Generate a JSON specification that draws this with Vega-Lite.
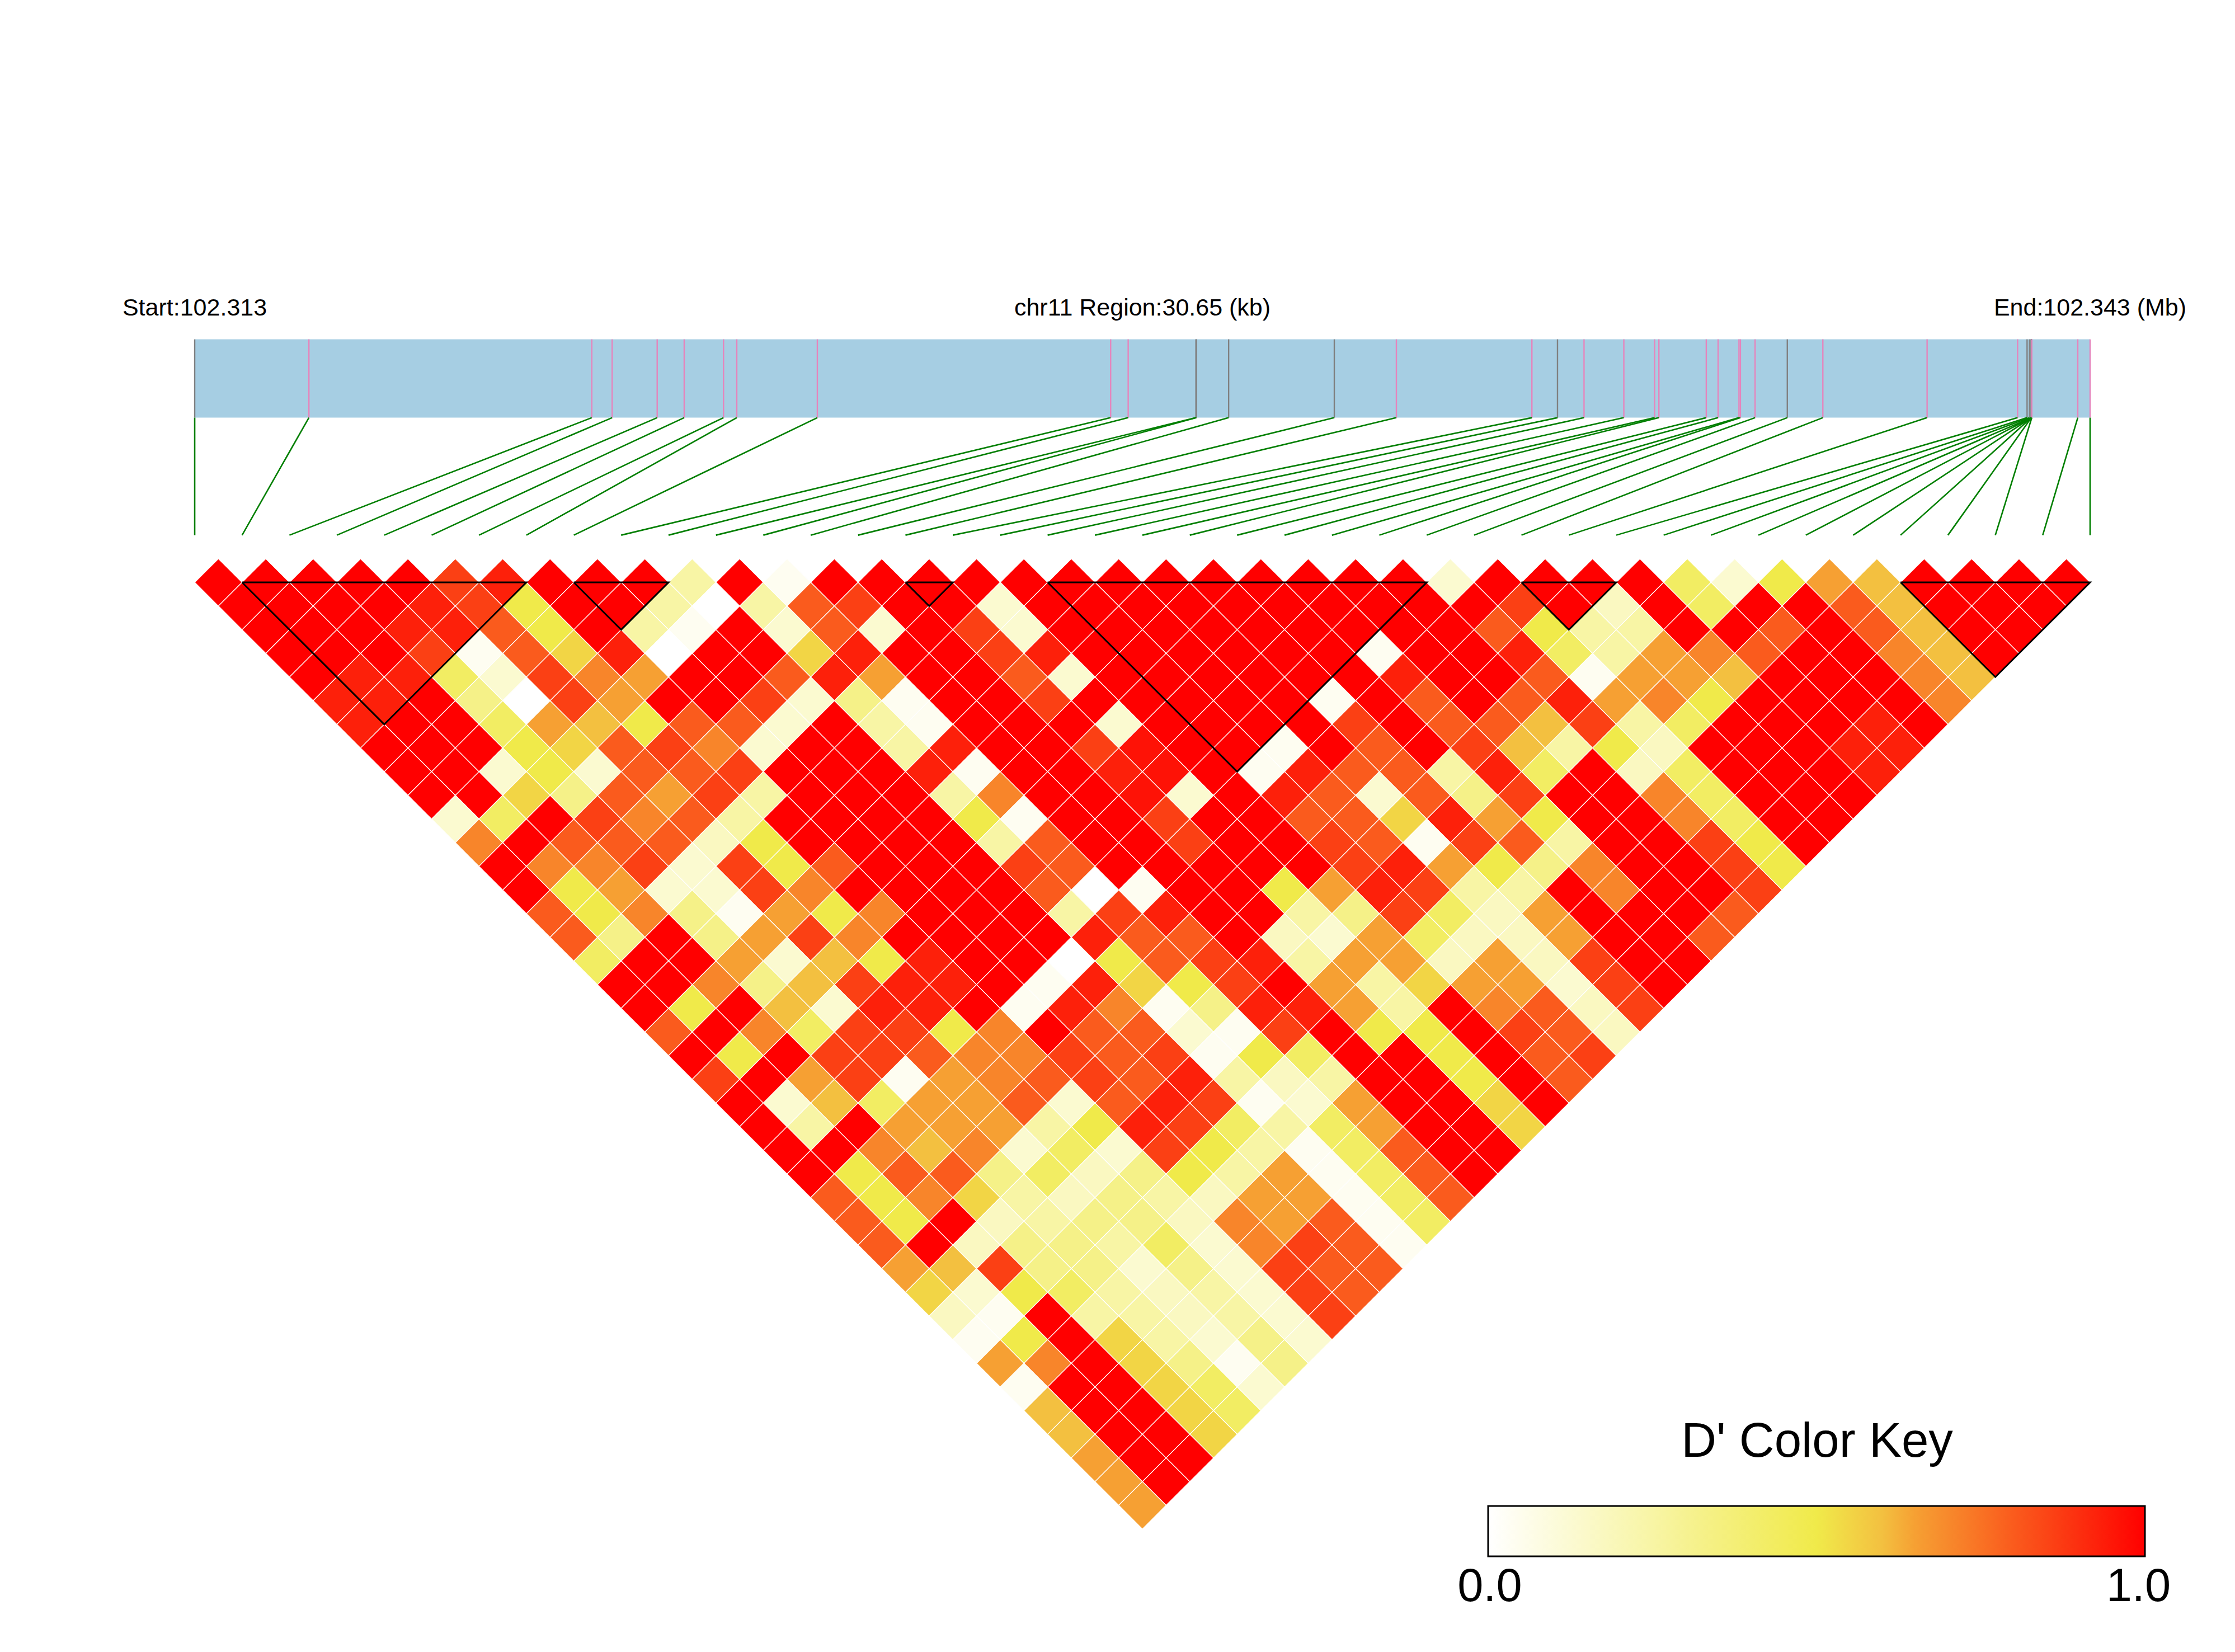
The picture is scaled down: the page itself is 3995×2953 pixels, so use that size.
{"$schema":"https://vega.github.io/schema/vega-lite/v6.json","width":3995,"height":2953,"padding":0,"autosize":{"type":"fit","contains":"padding"},"background":"white","config":{"view":{"stroke":null}},
"datasets":{
"snps":[{"k":0,"g":0,"t":"grey"},{"k":1,"g":2.41,"t":"pink"},{"k":2,"g":8.38,"t":"pink"},{"k":3,"g":8.81,"t":"pink"},{"k":4,"g":9.76,"t":"pink"},{"k":5,"g":10.33,"t":"pink"},{"k":6,"g":11.16,"t":"pink"},{"k":7,"g":11.44,"t":"pink"},{"k":8,"g":13.14,"t":"pink"},{"k":9,"g":19.33,"t":"pink"},{"k":10,"g":19.7,"t":"pink"},{"k":11,"g":21.13,"t":"grey"},{"k":12,"g":21.14,"t":"grey"},{"k":13,"g":21.82,"t":"grey"},{"k":14,"g":24.05,"t":"grey"},{"k":15,"g":25.36,"t":"pink"},{"k":16,"g":28.22,"t":"pink"},{"k":17,"g":28.76,"t":"grey"},{"k":18,"g":29.32,"t":"pink"},{"k":19,"g":30.16,"t":"pink"},{"k":20,"g":30.81,"t":"pink"},{"k":21,"g":30.9,"t":"pink"},{"k":22,"g":31.9,"t":"pink"},{"k":23,"g":32.15,"t":"pink"},{"k":24,"g":32.59,"t":"pink"},{"k":25,"g":32.62,"t":"pink"},{"k":26,"g":32.93,"t":"pink"},{"k":27,"g":33.61,"t":"grey"},{"k":28,"g":34.36,"t":"pink"},{"k":29,"g":36.56,"t":"pink"},{"k":30,"g":38.47,"t":"pink"},{"k":31,"g":38.67,"t":"grey"},{"k":32,"g":38.72,"t":"grey"},{"k":33,"g":38.76,"t":"grey"},{"k":34,"g":38.76,"t":"grey"},{"k":35,"g":38.76,"t":"grey"},{"k":36,"g":38.76,"t":"grey"},{"k":37,"g":38.76,"t":"grey"},{"k":38,"g":38.77,"t":"pink"},{"k":39,"g":39.74,"t":"pink"},{"k":40,"g":40,"t":"pink"}],
"blocks":[{"b":1,"o":0,"m":1,"l":1},{"b":1,"o":1,"m":7,"l":1},{"b":1,"o":2,"m":4,"l":7},{"b":1,"o":3,"m":1,"l":1},{"b":2,"o":0,"m":8,"l":1},{"b":2,"o":1,"m":10,"l":1},{"b":2,"o":2,"m":9,"l":3},{"b":2,"o":3,"m":8,"l":1},{"b":3,"o":0,"m":15,"l":1},{"b":3,"o":1,"m":16,"l":1},{"b":3,"o":2,"m":15.5,"l":2},{"b":3,"o":3,"m":15,"l":1},{"b":4,"o":0,"m":18,"l":1},{"b":4,"o":1,"m":26,"l":1},{"b":4,"o":2,"m":22,"l":9},{"b":4,"o":3,"m":18,"l":1},{"b":5,"o":0,"m":28,"l":1},{"b":5,"o":1,"m":30,"l":1},{"b":5,"o":2,"m":29,"l":3},{"b":5,"o":3,"m":28,"l":1},{"b":6,"o":0,"m":36,"l":1},{"b":6,"o":1,"m":40,"l":1},{"b":6,"o":2,"m":38,"l":5},{"b":6,"o":3,"m":36,"l":1}],
"cells":[
{"m":0.5,"l":1,"d":1},{"m":1.5,"l":1,"d":1},{"m":2.5,"l":1,"d":1},{"m":3.5,"l":1,"d":1},{"m":4.5,"l":1,"d":1},{"m":5.5,"l":1,"d":0.86},{"m":6.5,"l":1,"d":0.93},{"m":7.5,"l":1,"d":1},{"m":8.5,"l":1,"d":1},{"m":9.5,"l":1,"d":1},{"m":10.5,"l":1,"d":0.25},{"m":11.5,"l":1,"d":1},{"m":12.5,"l":1,"d":0.04},{"m":13.5,"l":1,"d":1},{"m":14.5,"l":1,"d":1},{"m":15.5,"l":1,"d":1},{"m":16.5,"l":1,"d":1},{"m":17.5,"l":1,"d":1},{"m":18.5,"l":1,"d":1},{"m":19.5,"l":1,"d":1},{"m":20.5,"l":1,"d":1},{"m":21.5,"l":1,"d":1},{"m":22.5,"l":1,"d":1},{"m":23.5,"l":1,"d":1},{"m":24.5,"l":1,"d":1},{"m":25.5,"l":1,"d":1},{"m":26.5,"l":1,"d":0.13},{"m":27.5,"l":1,"d":1},{"m":28.5,"l":1,"d":1},{"m":29.5,"l":1,"d":1},{"m":30.5,"l":1,"d":1},{"m":31.5,"l":1,"d":0.43},{"m":32.5,"l":1,"d":0.13},{"m":33.5,"l":1,"d":0.5},{"m":34.5,"l":1,"d":0.65},{"m":35.5,"l":1,"d":0.6},{"m":36.5,"l":1,"d":1},{"m":37.5,"l":1,"d":1},{"m":38.5,"l":1,"d":1},{"m":39.5,"l":1,"d":1},
{"m":1,"l":2,"d":1},{"m":2,"l":2,"d":1},{"m":3,"l":2,"d":1},{"m":4,"l":2,"d":1},{"m":5,"l":2,"d":0.93},{"m":6,"l":2,"d":0.86},{"m":7,"l":2,"d":0.5},{"m":8,"l":2,"d":1},{"m":9,"l":2,"d":1},{"m":10,"l":2,"d":0.25},{"m":11,"l":2,"d":0},{"m":12,"l":2,"d":0.25},{"m":13,"l":2,"d":0.8},{"m":14,"l":2,"d":0.86},{"m":15,"l":2,"d":1},{"m":16,"l":2,"d":1},{"m":17,"l":2,"d":0.13},{"m":18,"l":2,"d":1},{"m":19,"l":2,"d":1},{"m":20,"l":2,"d":1},{"m":21,"l":2,"d":1},{"m":22,"l":2,"d":1},{"m":23,"l":2,"d":1},{"m":24,"l":2,"d":1},{"m":25,"l":2,"d":1},{"m":26,"l":2,"d":1},{"m":27,"l":2,"d":1},{"m":28,"l":2,"d":0.86},{"m":29,"l":2,"d":1},{"m":30,"l":2,"d":0.17},{"m":31,"l":2,"d":1},{"m":32,"l":2,"d":0.43},{"m":33,"l":2,"d":1},{"m":34,"l":2,"d":1},{"m":35,"l":2,"d":0.8},{"m":36,"l":2,"d":0.6},{"m":37,"l":2,"d":1},{"m":38,"l":2,"d":1},{"m":39,"l":2,"d":1},
{"m":1.5,"l":3,"d":1},{"m":2.5,"l":3,"d":1},{"m":3.5,"l":3,"d":1},{"m":4.5,"l":3,"d":0.93},{"m":5.5,"l":3,"d":0.93},{"m":6.5,"l":3,"d":0.8},{"m":7.5,"l":3,"d":0.5},{"m":8.5,"l":3,"d":1},{"m":9.5,"l":3,"d":0.25},{"m":10.5,"l":3,"d":0.04},{"m":11.5,"l":3,"d":1},{"m":12.5,"l":3,"d":0.13},{"m":13.5,"l":3,"d":0.8},{"m":14.5,"l":3,"d":0.13},{"m":15.5,"l":3,"d":1},{"m":16.5,"l":3,"d":0.86},{"m":17.5,"l":3,"d":0.13},{"m":18.5,"l":3,"d":1},{"m":19.5,"l":3,"d":1},{"m":20.5,"l":3,"d":1},{"m":21.5,"l":3,"d":1},{"m":22.5,"l":3,"d":1},{"m":23.5,"l":3,"d":1},{"m":24.5,"l":3,"d":1},{"m":25.5,"l":3,"d":1},{"m":26.5,"l":3,"d":1},{"m":27.5,"l":3,"d":0.8},{"m":28.5,"l":3,"d":0.5},{"m":29.5,"l":3,"d":0.25},{"m":30.5,"l":3,"d":0.25},{"m":31.5,"l":3,"d":1},{"m":32.5,"l":3,"d":1},{"m":33.5,"l":3,"d":0.8},{"m":34.5,"l":3,"d":1},{"m":35.5,"l":3,"d":0.8},{"m":36.5,"l":3,"d":0.6},{"m":37.5,"l":3,"d":1},{"m":38.5,"l":3,"d":1},
{"m":2,"l":4,"d":1},{"m":3,"l":4,"d":1},{"m":4,"l":4,"d":1},{"m":5,"l":4,"d":0.86},{"m":6,"l":4,"d":0.04},{"m":7,"l":4,"d":0.8},{"m":8,"l":4,"d":0.55},{"m":9,"l":4,"d":0.93},{"m":10,"l":4,"d":0},{"m":11,"l":4,"d":1},{"m":12,"l":4,"d":1},{"m":13,"l":4,"d":0.55},{"m":14,"l":4,"d":0.93},{"m":15,"l":4,"d":1},{"m":16,"l":4,"d":1},{"m":17,"l":4,"d":0.86},{"m":18,"l":4,"d":0.93},{"m":19,"l":4,"d":1},{"m":20,"l":4,"d":1},{"m":21,"l":4,"d":1},{"m":22,"l":4,"d":1},{"m":23,"l":4,"d":1},{"m":24,"l":4,"d":1},{"m":25,"l":4,"d":0.04},{"m":26,"l":4,"d":1},{"m":27,"l":4,"d":1},{"m":28,"l":4,"d":0.93},{"m":29,"l":4,"d":0.43},{"m":30,"l":4,"d":0.25},{"m":31,"l":4,"d":0.65},{"m":32,"l":4,"d":0.71},{"m":33,"l":4,"d":0.8},{"m":34,"l":4,"d":1},{"m":35,"l":4,"d":1},{"m":36,"l":4,"d":0.71},{"m":37,"l":4,"d":0.6},{"m":38,"l":4,"d":1},
{"m":2.5,"l":5,"d":1},{"m":3.5,"l":5,"d":0.93},{"m":4.5,"l":5,"d":0.93},{"m":5.5,"l":5,"d":0.43},{"m":6.5,"l":5,"d":0.13},{"m":7.5,"l":5,"d":0.86},{"m":8.5,"l":5,"d":0.71},{"m":9.5,"l":5,"d":0.65},{"m":10.5,"l":5,"d":1},{"m":11.5,"l":5,"d":1},{"m":12.5,"l":5,"d":0.8},{"m":13.5,"l":5,"d":0.93},{"m":14.5,"l":5,"d":0.65},{"m":15.5,"l":5,"d":1},{"m":16.5,"l":5,"d":1},{"m":17.5,"l":5,"d":0.8},{"m":18.5,"l":5,"d":0.13},{"m":19.5,"l":5,"d":1},{"m":20.5,"l":5,"d":1},{"m":21.5,"l":5,"d":1},{"m":22.5,"l":5,"d":1},{"m":23.5,"l":5,"d":1},{"m":24.5,"l":5,"d":1},{"m":25.5,"l":5,"d":0.93},{"m":26.5,"l":5,"d":1},{"m":27.5,"l":5,"d":1},{"m":28.5,"l":5,"d":0.8},{"m":29.5,"l":5,"d":0.04},{"m":30.5,"l":5,"d":0.65},{"m":31.5,"l":5,"d":0.65},{"m":32.5,"l":5,"d":0.6},{"m":33.5,"l":5,"d":1},{"m":34.5,"l":5,"d":1},{"m":35.5,"l":5,"d":1},{"m":36.5,"l":5,"d":0.71},{"m":37.5,"l":5,"d":0.6},
{"m":3,"l":6,"d":0.93},{"m":4,"l":6,"d":0.93},{"m":5,"l":6,"d":1},{"m":6,"l":6,"d":0.33},{"m":7,"l":6,"d":0},{"m":8,"l":6,"d":0.86},{"m":9,"l":6,"d":0.65},{"m":10,"l":6,"d":1},{"m":11,"l":6,"d":1},{"m":12,"l":6,"d":0.86},{"m":13,"l":6,"d":0.13},{"m":14,"l":6,"d":0.33},{"m":15,"l":6,"d":0.04},{"m":16,"l":6,"d":1},{"m":17,"l":6,"d":1},{"m":18,"l":6,"d":0.86},{"m":19,"l":6,"d":1},{"m":20,"l":6,"d":1},{"m":21,"l":6,"d":1},{"m":22,"l":6,"d":1},{"m":23,"l":6,"d":1},{"m":24,"l":6,"d":0.04},{"m":25,"l":6,"d":1},{"m":26,"l":6,"d":0.8},{"m":27,"l":6,"d":1},{"m":28,"l":6,"d":0.8},{"m":29,"l":6,"d":0.93},{"m":30,"l":6,"d":0.65},{"m":31,"l":6,"d":0.71},{"m":32,"l":6,"d":0.5},{"m":33,"l":6,"d":1},{"m":34,"l":6,"d":1},{"m":35,"l":6,"d":1},{"m":36,"l":6,"d":1},{"m":37,"l":6,"d":0.71},
{"m":3.5,"l":7,"d":0.93},{"m":4.5,"l":7,"d":1},{"m":5.5,"l":7,"d":1},{"m":6.5,"l":7,"d":0.43},{"m":7.5,"l":7,"d":0.65},{"m":8.5,"l":7,"d":0.6},{"m":9.5,"l":7,"d":0.5},{"m":10.5,"l":7,"d":0.8},{"m":11.5,"l":7,"d":0.8},{"m":12.5,"l":7,"d":0.13},{"m":13.5,"l":7,"d":1},{"m":14.5,"l":7,"d":0.25},{"m":15.5,"l":7,"d":0.04},{"m":16.5,"l":7,"d":1},{"m":17.5,"l":7,"d":1},{"m":18.5,"l":7,"d":1},{"m":19.5,"l":7,"d":0.13},{"m":20.5,"l":7,"d":1},{"m":21.5,"l":7,"d":1},{"m":22.5,"l":7,"d":1},{"m":23.5,"l":7,"d":1},{"m":24.5,"l":7,"d":0.86},{"m":25.5,"l":7,"d":1},{"m":26.5,"l":7,"d":0.8},{"m":27.5,"l":7,"d":0.8},{"m":28.5,"l":7,"d":0.6},{"m":29.5,"l":7,"d":0.86},{"m":30.5,"l":7,"d":0.25},{"m":31.5,"l":7,"d":0.43},{"m":32.5,"l":7,"d":1},{"m":33.5,"l":7,"d":1},{"m":34.5,"l":7,"d":1},{"m":35.5,"l":7,"d":0.93},{"m":36.5,"l":7,"d":1},
{"m":4,"l":8,"d":1},{"m":5,"l":8,"d":1},{"m":6,"l":8,"d":1},{"m":7,"l":8,"d":0.5},{"m":8,"l":8,"d":0.55},{"m":9,"l":8,"d":0.8},{"m":10,"l":8,"d":0.86},{"m":11,"l":8,"d":0.71},{"m":12,"l":8,"d":0.13},{"m":13,"l":8,"d":1},{"m":14,"l":8,"d":1},{"m":15,"l":8,"d":0.25},{"m":16,"l":8,"d":0.93},{"m":17,"l":8,"d":1},{"m":18,"l":8,"d":1},{"m":19,"l":8,"d":0.86},{"m":20,"l":8,"d":0.96},{"m":21,"l":8,"d":1},{"m":22,"l":8,"d":1},{"m":23,"l":8,"d":0.04},{"m":24,"l":8,"d":1},{"m":25,"l":8,"d":0.8},{"m":26,"l":8,"d":1},{"m":27,"l":8,"d":0.86},{"m":28,"l":8,"d":0.6},{"m":29,"l":8,"d":0.25},{"m":30,"l":8,"d":0.5},{"m":31,"l":8,"d":0.17},{"m":32,"l":8,"d":1},{"m":33,"l":8,"d":1},{"m":34,"l":8,"d":1},{"m":35,"l":8,"d":0.93},{"m":36,"l":8,"d":0.93},
{"m":4.5,"l":9,"d":1},{"m":5.5,"l":9,"d":1},{"m":6.5,"l":9,"d":0.13},{"m":7.5,"l":9,"d":0.5},{"m":8.5,"l":9,"d":0.13},{"m":9.5,"l":9,"d":0.8},{"m":10.5,"l":9,"d":0.8},{"m":11.5,"l":9,"d":0.86},{"m":12.5,"l":9,"d":1},{"m":13.5,"l":9,"d":1},{"m":14.5,"l":9,"d":1},{"m":15.5,"l":9,"d":0.93},{"m":16.5,"l":9,"d":0.04},{"m":17.5,"l":9,"d":1},{"m":18.5,"l":9,"d":1},{"m":19.5,"l":9,"d":0.93},{"m":20.5,"l":9,"d":0.96},{"m":21.5,"l":9,"d":1},{"m":22.5,"l":9,"d":0.04},{"m":23.5,"l":9,"d":0.93},{"m":24.5,"l":9,"d":0.8},{"m":25.5,"l":9,"d":0.8},{"m":26.5,"l":9,"d":0.25},{"m":27.5,"l":9,"d":0.93},{"m":28.5,"l":9,"d":0.43},{"m":29.5,"l":9,"d":1},{"m":30.5,"l":9,"d":0.17},{"m":31.5,"l":9,"d":0.43},{"m":32.5,"l":9,"d":1},{"m":33.5,"l":9,"d":1},{"m":34.5,"l":9,"d":1},{"m":35.5,"l":9,"d":0.93},
{"m":5,"l":10,"d":1},{"m":6,"l":10,"d":1},{"m":7,"l":10,"d":0.55},{"m":8,"l":10,"d":0.33},{"m":9,"l":10,"d":0.8},{"m":10,"l":10,"d":0.65},{"m":11,"l":10,"d":0.86},{"m":12,"l":10,"d":0.25},{"m":13,"l":10,"d":1},{"m":14,"l":10,"d":1},{"m":15,"l":10,"d":1},{"m":16,"l":10,"d":0.25},{"m":17,"l":10,"d":0.71},{"m":18,"l":10,"d":1},{"m":19,"l":10,"d":1},{"m":20,"l":10,"d":0.96},{"m":21,"l":10,"d":0.13},{"m":22,"l":10,"d":1},{"m":23,"l":10,"d":0.93},{"m":24,"l":10,"d":0.8},{"m":25,"l":10,"d":0.13},{"m":26,"l":10,"d":0.8},{"m":27,"l":10,"d":0.33},{"m":28,"l":10,"d":0.86},{"m":29,"l":10,"d":1},{"m":30,"l":10,"d":1},{"m":31,"l":10,"d":0.71},{"m":32,"l":10,"d":0.43},{"m":33,"l":10,"d":1},{"m":34,"l":10,"d":1},{"m":35,"l":10,"d":1},
{"m":5.5,"l":11,"d":0.13},{"m":6.5,"l":11,"d":0.43},{"m":7.5,"l":11,"d":1},{"m":8.5,"l":11,"d":0.86},{"m":9.5,"l":11,"d":0.71},{"m":10.5,"l":11,"d":0.8},{"m":11.5,"l":11,"d":0.25},{"m":12.5,"l":11,"d":1},{"m":13.5,"l":11,"d":1},{"m":14.5,"l":11,"d":1},{"m":15.5,"l":11,"d":1},{"m":16.5,"l":11,"d":0.5},{"m":17.5,"l":11,"d":0.04},{"m":18.5,"l":11,"d":1},{"m":19.5,"l":11,"d":1},{"m":20.5,"l":11,"d":0.86},{"m":21.5,"l":11,"d":1},{"m":22.5,"l":11,"d":1},{"m":23.5,"l":11,"d":0.8},{"m":24.5,"l":11,"d":0.8},{"m":25.5,"l":11,"d":0.55},{"m":26.5,"l":11,"d":0.93},{"m":27.5,"l":11,"d":0.65},{"m":28.5,"l":11,"d":0.5},{"m":29.5,"l":11,"d":1},{"m":30.5,"l":11,"d":1},{"m":31.5,"l":11,"d":0.71},{"m":32.5,"l":11,"d":0.43},{"m":33.5,"l":11,"d":1},{"m":34.5,"l":11,"d":1},
{"m":6,"l":12,"d":0.71},{"m":7,"l":12,"d":1},{"m":8,"l":12,"d":0.8},{"m":9,"l":12,"d":0.8},{"m":10,"l":12,"d":0.8},{"m":11,"l":12,"d":0.17},{"m":12,"l":12,"d":0.5},{"m":13,"l":12,"d":1},{"m":14,"l":12,"d":1},{"m":15,"l":12,"d":1},{"m":16,"l":12,"d":1},{"m":17,"l":12,"d":0.25},{"m":18,"l":12,"d":0.8},{"m":19,"l":12,"d":1},{"m":20,"l":12,"d":1},{"m":21,"l":12,"d":0.86},{"m":22,"l":12,"d":1},{"m":23,"l":12,"d":1},{"m":24,"l":12,"d":0.86},{"m":25,"l":12,"d":0.8},{"m":26,"l":12,"d":0.04},{"m":27,"l":12,"d":0.86},{"m":28,"l":12,"d":0.8},{"m":29,"l":12,"d":0.25},{"m":30,"l":12,"d":1},{"m":31,"l":12,"d":1},{"m":32,"l":12,"d":0.86},{"m":33,"l":12,"d":0.5},{"m":34,"l":12,"d":1},
{"m":6.5,"l":13,"d":1},{"m":7.5,"l":13,"d":0.71},{"m":8.5,"l":13,"d":0.71},{"m":9.5,"l":13,"d":0.86},{"m":10.5,"l":13,"d":0.13},{"m":11.5,"l":13,"d":0.86},{"m":12.5,"l":13,"d":0.5},{"m":13.5,"l":13,"d":0.8},{"m":14.5,"l":13,"d":1},{"m":15.5,"l":13,"d":1},{"m":16.5,"l":13,"d":1},{"m":17.5,"l":13,"d":0.86},{"m":18.5,"l":13,"d":0.8},{"m":19.5,"l":13,"d":1},{"m":20.5,"l":13,"d":1},{"m":21.5,"l":13,"d":1},{"m":22.5,"l":13,"d":1},{"m":23.5,"l":13,"d":1},{"m":24.5,"l":13,"d":0.86},{"m":25.5,"l":13,"d":0.93},{"m":26.5,"l":13,"d":0.65},{"m":27.5,"l":13,"d":0.5},{"m":28.5,"l":13,"d":0.33},{"m":29.5,"l":13,"d":0.71},{"m":30.5,"l":13,"d":1},{"m":31.5,"l":13,"d":1},{"m":32.5,"l":13,"d":0.86},{"m":33.5,"l":13,"d":0.5},
{"m":7,"l":14,"d":1},{"m":8,"l":14,"d":0.5},{"m":9,"l":14,"d":0.65},{"m":10,"l":14,"d":0.13},{"m":11,"l":14,"d":0.13},{"m":12,"l":14,"d":0.86},{"m":13,"l":14,"d":0.71},{"m":14,"l":14,"d":1},{"m":15,"l":14,"d":1},{"m":16,"l":14,"d":1},{"m":17,"l":14,"d":1},{"m":18,"l":14,"d":0.8},{"m":19,"l":14,"d":0},{"m":20,"l":14,"d":0.04},{"m":21,"l":14,"d":1},{"m":22,"l":14,"d":1},{"m":23,"l":14,"d":0.5},{"m":24,"l":14,"d":0.65},{"m":25,"l":14,"d":0.93},{"m":26,"l":14,"d":0.86},{"m":27,"l":14,"d":0.25},{"m":28,"l":14,"d":0.25},{"m":29,"l":14,"d":1},{"m":30,"l":14,"d":0.71},{"m":31,"l":14,"d":1},{"m":32,"l":14,"d":1},{"m":33,"l":14,"d":0.86},
{"m":7.5,"l":15,"d":0.8},{"m":8.5,"l":15,"d":0.5},{"m":9.5,"l":15,"d":0.71},{"m":10.5,"l":15,"d":0.33},{"m":11.5,"l":15,"d":0.04},{"m":12.5,"l":15,"d":0.65},{"m":13.5,"l":15,"d":0.5},{"m":14.5,"l":15,"d":0.71},{"m":15.5,"l":15,"d":1},{"m":16.5,"l":15,"d":1},{"m":17.5,"l":15,"d":1},{"m":18.5,"l":15,"d":0.25},{"m":19.5,"l":15,"d":0.86},{"m":20.5,"l":15,"d":0.93},{"m":21.5,"l":15,"d":1},{"m":22.5,"l":15,"d":1},{"m":23.5,"l":15,"d":0.25},{"m":24.5,"l":15,"d":0.33},{"m":25.5,"l":15,"d":0.86},{"m":26.5,"l":15,"d":0.43},{"m":27.5,"l":15,"d":0.17},{"m":28.5,"l":15,"d":0.65},{"m":29.5,"l":15,"d":1},{"m":30.5,"l":15,"d":1},{"m":31.5,"l":15,"d":1},{"m":32.5,"l":15,"d":0.8},
{"m":8,"l":16,"d":0.8},{"m":9,"l":16,"d":0.33},{"m":10,"l":16,"d":1},{"m":11,"l":16,"d":0.33},{"m":12,"l":16,"d":0.65},{"m":13,"l":16,"d":0.86},{"m":14,"l":16,"d":0.71},{"m":15,"l":16,"d":1},{"m":16,"l":16,"d":1},{"m":17,"l":16,"d":1},{"m":18,"l":16,"d":1},{"m":19,"l":16,"d":0.93},{"m":20,"l":16,"d":0.8},{"m":21,"l":16,"d":0.8},{"m":22,"l":16,"d":1},{"m":23,"l":16,"d":0.17},{"m":24,"l":16,"d":0.13},{"m":25,"l":16,"d":0.65},{"m":26,"l":16,"d":0.43},{"m":27,"l":16,"d":0.17},{"m":28,"l":16,"d":0.17},{"m":29,"l":16,"d":0.65},{"m":30,"l":16,"d":1},{"m":31,"l":16,"d":1},{"m":32,"l":16,"d":0.8},
{"m":8.5,"l":17,"d":0.43},{"m":9.5,"l":17,"d":1},{"m":10.5,"l":17,"d":1},{"m":11.5,"l":17,"d":0.65},{"m":12.5,"l":17,"d":0.13},{"m":13.5,"l":17,"d":0.6},{"m":14.5,"l":17,"d":0.5},{"m":15.5,"l":17,"d":0.93},{"m":16.5,"l":17,"d":1},{"m":17.5,"l":17,"d":1},{"m":18.5,"l":17,"d":0},{"m":19.5,"l":17,"d":0.5},{"m":20.5,"l":17,"d":0.8},{"m":21.5,"l":17,"d":0.86},{"m":22.5,"l":17,"d":0.93},{"m":23.5,"l":17,"d":0.25},{"m":24.5,"l":17,"d":0.65},{"m":25.5,"l":17,"d":0.65},{"m":26.5,"l":17,"d":0.17},{"m":27.5,"l":17,"d":0.65},{"m":28.5,"l":17,"d":0.17},{"m":29.5,"l":17,"d":0.86},{"m":30.5,"l":17,"d":1},{"m":31.5,"l":17,"d":1},
{"m":9,"l":18,"d":1},{"m":10,"l":18,"d":1},{"m":11,"l":18,"d":0.71},{"m":12,"l":18,"d":0.33},{"m":13,"l":18,"d":0.6},{"m":14,"l":18,"d":0.86},{"m":15,"l":18,"d":0.93},{"m":16,"l":18,"d":0.93},{"m":17,"l":18,"d":1},{"m":18,"l":18,"d":0.04},{"m":19,"l":18,"d":0.93},{"m":20,"l":18,"d":0.55},{"m":21,"l":18,"d":0.5},{"m":22,"l":18,"d":0.86},{"m":23,"l":18,"d":1},{"m":24,"l":18,"d":0.65},{"m":25,"l":18,"d":0.25},{"m":26,"l":18,"d":0.55},{"m":27,"l":18,"d":0.65},{"m":28,"l":18,"d":0.65},{"m":29,"l":18,"d":0.13},{"m":30,"l":18,"d":0.86},{"m":31,"l":18,"d":1},
{"m":9.5,"l":19,"d":1},{"m":10.5,"l":19,"d":0.5},{"m":11.5,"l":19,"d":1},{"m":12.5,"l":19,"d":0.6},{"m":13.5,"l":19,"d":0.13},{"m":14.5,"l":19,"d":0.93},{"m":15.5,"l":19,"d":0.93},{"m":16.5,"l":19,"d":1},{"m":17.5,"l":19,"d":0.04},{"m":18.5,"l":19,"d":0.93},{"m":19.5,"l":19,"d":0.71},{"m":20.5,"l":19,"d":0.04},{"m":21.5,"l":19,"d":0.33},{"m":22.5,"l":19,"d":0.93},{"m":23.5,"l":19,"d":0.93},{"m":24.5,"l":19,"d":0.65},{"m":25.5,"l":19,"d":0.25},{"m":26.5,"l":19,"d":1},{"m":27.5,"l":19,"d":0.71},{"m":28.5,"l":19,"d":0.8},{"m":29.5,"l":19,"d":0.17},{"m":30.5,"l":19,"d":0.86},
{"m":10,"l":20,"d":0.8},{"m":11,"l":20,"d":1},{"m":12,"l":20,"d":0.71},{"m":13,"l":20,"d":0.43},{"m":14,"l":20,"d":0.86},{"m":15,"l":20,"d":0.86},{"m":16,"l":20,"d":0.5},{"m":17,"l":20,"d":0.71},{"m":18,"l":20,"d":1},{"m":19,"l":20,"d":0.8},{"m":20,"l":20,"d":0.8},{"m":21,"l":20,"d":0.13},{"m":22,"l":20,"d":0.04},{"m":23,"l":20,"d":0.86},{"m":24,"l":20,"d":1},{"m":25,"l":20,"d":0.5},{"m":26,"l":20,"d":0.5},{"m":27,"l":20,"d":1},{"m":28,"l":20,"d":0.86},{"m":29,"l":20,"d":0.8},{"m":30,"l":20,"d":0.17},
{"m":10.5,"l":21,"d":1},{"m":11.5,"l":21,"d":0.5},{"m":12.5,"l":21,"d":1},{"m":13.5,"l":21,"d":0.86},{"m":14.5,"l":21,"d":0.86},{"m":15.5,"l":21,"d":0.8},{"m":16.5,"l":21,"d":0.71},{"m":17.5,"l":21,"d":0.71},{"m":18.5,"l":21,"d":0.86},{"m":19.5,"l":21,"d":0.8},{"m":20.5,"l":21,"d":0.86},{"m":21.5,"l":21,"d":0.04},{"m":22.5,"l":21,"d":0.5},{"m":23.5,"l":21,"d":0.43},{"m":24.5,"l":21,"d":1},{"m":25.5,"l":21,"d":1},{"m":26.5,"l":21,"d":0.5},{"m":27.5,"l":21,"d":1},{"m":28.5,"l":21,"d":0.8},{"m":29.5,"l":21,"d":0.86},
{"m":11,"l":22,"d":0.86},{"m":12,"l":22,"d":1},{"m":13,"l":22,"d":0.65},{"m":14,"l":22,"d":0.86},{"m":15,"l":22,"d":0.04},{"m":16,"l":22,"d":0.65},{"m":17,"l":22,"d":0.71},{"m":18,"l":22,"d":0.8},{"m":19,"l":22,"d":0.86},{"m":20,"l":22,"d":0.8},{"m":21,"l":22,"d":0.93},{"m":22,"l":22,"d":0.25},{"m":23,"l":22,"d":0.17},{"m":24,"l":22,"d":0.25},{"m":25,"l":22,"d":1},{"m":26,"l":22,"d":1},{"m":27,"l":22,"d":0.5},{"m":28,"l":22,"d":1},{"m":29,"l":22,"d":0.8},
{"m":11.5,"l":23,"d":1},{"m":12.5,"l":23,"d":0.13},{"m":13.5,"l":23,"d":0.6},{"m":14.5,"l":23,"d":0.43},{"m":15.5,"l":23,"d":0.65},{"m":16.5,"l":23,"d":0.65},{"m":17.5,"l":23,"d":0.8},{"m":18.5,"l":23,"d":0.13},{"m":19.5,"l":23,"d":0.8},{"m":20.5,"l":23,"d":0.93},{"m":21.5,"l":23,"d":0.86},{"m":22.5,"l":23,"d":0.04},{"m":23.5,"l":23,"d":0.13},{"m":24.5,"l":23,"d":0.65},{"m":25.5,"l":23,"d":1},{"m":26.5,"l":23,"d":1},{"m":27.5,"l":23,"d":0.55},{"m":28.5,"l":23,"d":1},
{"m":12,"l":24,"d":1},{"m":13,"l":24,"d":0.25},{"m":14,"l":24,"d":1},{"m":15,"l":24,"d":0.65},{"m":16,"l":24,"d":0.65},{"m":17,"l":24,"d":0.65},{"m":18,"l":24,"d":0.25},{"m":19,"l":24,"d":0.5},{"m":20,"l":24,"d":0.93},{"m":21,"l":24,"d":0.86},{"m":22,"l":24,"d":0.43},{"m":23,"l":24,"d":0.25},{"m":24,"l":24,"d":0.43},{"m":25,"l":24,"d":0.65},{"m":26,"l":24,"d":1},{"m":27,"l":24,"d":1},{"m":28,"l":24,"d":0.55},
{"m":12.5,"l":25,"d":1},{"m":13.5,"l":25,"d":1},{"m":14.5,"l":25,"d":0.71},{"m":15.5,"l":25,"d":0.6},{"m":16.5,"l":25,"d":0.71},{"m":17.5,"l":25,"d":0.13},{"m":18.5,"l":25,"d":0.43},{"m":19.5,"l":25,"d":0.13},{"m":20.5,"l":25,"d":0.86},{"m":21.5,"l":25,"d":0.5},{"m":22.5,"l":25,"d":0.25},{"m":23.5,"l":25,"d":0.04},{"m":24.5,"l":25,"d":0.43},{"m":25.5,"l":25,"d":0.8},{"m":26.5,"l":25,"d":1},{"m":27.5,"l":25,"d":1},
{"m":13,"l":26,"d":1},{"m":14,"l":26,"d":0.5},{"m":15,"l":26,"d":0.8},{"m":16,"l":26,"d":0.8},{"m":17,"l":26,"d":0.33},{"m":18,"l":26,"d":0.43},{"m":19,"l":26,"d":0.17},{"m":20,"l":26,"d":0.33},{"m":21,"l":26,"d":0.5},{"m":22,"l":26,"d":0.25},{"m":23,"l":26,"d":0.65},{"m":24,"l":26,"d":0.04},{"m":25,"l":26,"d":0.43},{"m":26,"l":26,"d":0.8},{"m":27,"l":26,"d":1},
{"m":13.5,"l":27,"d":0.8},{"m":14.5,"l":27,"d":0.5},{"m":15.5,"l":27,"d":0.71},{"m":16.5,"l":27,"d":0.55},{"m":17.5,"l":27,"d":0.25},{"m":18.5,"l":27,"d":0.17},{"m":19.5,"l":27,"d":0.33},{"m":20.5,"l":27,"d":0.25},{"m":21.5,"l":27,"d":0.17},{"m":22.5,"l":27,"d":0.65},{"m":23.5,"l":27,"d":0.65},{"m":24.5,"l":27,"d":0.04},{"m":25.5,"l":27,"d":0.43},{"m":26.5,"l":27,"d":0.8},
{"m":14,"l":28,"d":0.8},{"m":15,"l":28,"d":0.5},{"m":16,"l":28,"d":1},{"m":17,"l":28,"d":0.17},{"m":18,"l":28,"d":0.25},{"m":19,"l":28,"d":0.33},{"m":20,"l":28,"d":0.33},{"m":21,"l":28,"d":0.17},{"m":22,"l":28,"d":0.71},{"m":23,"l":28,"d":0.65},{"m":24,"l":28,"d":0.8},{"m":25,"l":28,"d":0.04},{"m":26,"l":28,"d":0.43},
{"m":14.5,"l":29,"d":0.8},{"m":15.5,"l":29,"d":1},{"m":16.5,"l":29,"d":0.17},{"m":17.5,"l":29,"d":0.33},{"m":18.5,"l":29,"d":0.33},{"m":19.5,"l":29,"d":0.25},{"m":20.5,"l":29,"d":0.43},{"m":21.5,"l":29,"d":0.13},{"m":22.5,"l":29,"d":0.71},{"m":23.5,"l":29,"d":0.86},{"m":24.5,"l":29,"d":0.8},{"m":25.5,"l":29,"d":0.04},
{"m":15,"l":30,"d":0.65},{"m":16,"l":30,"d":0.6},{"m":17,"l":30,"d":0.86},{"m":18,"l":30,"d":0.33},{"m":19,"l":30,"d":0.33},{"m":20,"l":30,"d":0.13},{"m":21,"l":30,"d":0.33},{"m":22,"l":30,"d":0.13},{"m":23,"l":30,"d":0.86},{"m":24,"l":30,"d":0.8},{"m":25,"l":30,"d":0.8},
{"m":15.5,"l":31,"d":0.55},{"m":16.5,"l":31,"d":0.13},{"m":17.5,"l":31,"d":0.5},{"m":18.5,"l":31,"d":0.43},{"m":19.5,"l":31,"d":0.25},{"m":20.5,"l":31,"d":0.17},{"m":21.5,"l":31,"d":0.25},{"m":22.5,"l":31,"d":0.13},{"m":23.5,"l":31,"d":0.86},{"m":24.5,"l":31,"d":0.8},
{"m":16,"l":32,"d":0.17},{"m":17,"l":32,"d":0.04},{"m":18,"l":32,"d":1},{"m":19,"l":32,"d":0.25},{"m":20,"l":32,"d":0.25},{"m":21,"l":32,"d":0.17},{"m":22,"l":32,"d":0.25},{"m":23,"l":32,"d":0.13},{"m":24,"l":32,"d":0.86},
{"m":16.5,"l":33,"d":0.04},{"m":17.5,"l":33,"d":0.5},{"m":18.5,"l":33,"d":1},{"m":19.5,"l":33,"d":0.55},{"m":20.5,"l":33,"d":0.25},{"m":21.5,"l":33,"d":0.13},{"m":22.5,"l":33,"d":0.33},{"m":23.5,"l":33,"d":0.13},
{"m":17,"l":34,"d":0.65},{"m":18,"l":34,"d":0.71},{"m":19,"l":34,"d":1},{"m":20,"l":34,"d":0.55},{"m":21,"l":34,"d":0.33},{"m":22,"l":34,"d":0.04},{"m":23,"l":34,"d":0.33},
{"m":17.5,"l":35,"d":0.04},{"m":18.5,"l":35,"d":1},{"m":19.5,"l":35,"d":1},{"m":20.5,"l":35,"d":0.55},{"m":21.5,"l":35,"d":0.43},{"m":22.5,"l":35,"d":0.13},
{"m":18,"l":36,"d":0.6},{"m":19,"l":36,"d":1},{"m":20,"l":36,"d":1},{"m":21,"l":36,"d":0.55},{"m":22,"l":36,"d":0.43},
{"m":18.5,"l":37,"d":0.6},{"m":19.5,"l":37,"d":1},{"m":20.5,"l":37,"d":1},{"m":21.5,"l":37,"d":0.55},
{"m":19,"l":38,"d":0.65},{"m":20,"l":38,"d":1},{"m":21,"l":38,"d":1},
{"m":19.5,"l":39,"d":0.65},{"m":20.5,"l":39,"d":1},
{"m":20,"l":40,"d":0.65}
]},
"layer":[
{"data":{"values":[{"a":0,"b":40}]},"mark":{"type":"rect","fill":"#A6CEE3"},"encoding":{"x":{"field":"a","type":"quantitative","scale":{"domain":[-4.109,43.058],"nice":false,"zero":false},"axis":null},"x2":{"field":"b"},"y":{"datum":-9.27,"type":"quantitative","scale":{"domain":[-23.61,46.2],"nice":false,"zero":false,"reverse":true},"axis":null},"y2":{"datum":-5.96}}},
{"data":{"name":"snps"},"mark":{"type":"rule","strokeWidth":2.4},"encoding":{"x":{"field":"g","type":"quantitative","scale":{"domain":[-4.109,43.058],"nice":false,"zero":false},"axis":null},"y":{"datum":-9.27,"type":"quantitative","scale":{"domain":[-23.61,46.2],"nice":false,"zero":false,"reverse":true},"axis":null},"y2":{"datum":-5.96},"stroke":{"field":"t","type":"nominal","scale":{"domain":["grey","pink"],"range":["#808080","#E684BC"]},"legend":null}}},
{"data":{"name":"snps"},"mark":{"type":"rule","stroke":"#007F00","strokeWidth":2.6},"encoding":{"x":{"field":"g","type":"quantitative","scale":{"domain":[-4.109,43.058],"nice":false,"zero":false},"axis":null},"x2":{"field":"k"},"y":{"datum":-5.96,"type":"quantitative","scale":{"domain":[-23.61,46.2],"nice":false,"zero":false,"reverse":true},"axis":null},"y2":{"datum":-0.995}}},
{"data":{"values":[{"g":0,"t":"Start:102.313"},{"g":20,"t":"chr11 Region:30.65 (kb)"},{"g":40,"t":"End:102.343 (Mb)"}]},"mark":{"type":"text","font":"Liberation Sans","fontSize":43,"align":"center","baseline":"alphabetic","color":"#000000"},"encoding":{"x":{"field":"g","type":"quantitative","scale":{"domain":[-4.109,43.058],"nice":false,"zero":false},"axis":null},"y":{"datum":-10.28,"type":"quantitative","scale":{"domain":[-23.61,46.2],"nice":false,"zero":false,"reverse":true},"axis":null},"text":{"field":"t"}}},
{"data":{"values":[{"g":27.33,"t":"0.0"},{"g":41.02,"t":"1.0"}]},"mark":{"type":"text","font":"Liberation Sans","fontSize":83,"align":"center","baseline":"alphabetic","color":"#000000"},"encoding":{"x":{"field":"g","type":"quantitative","scale":{"domain":[-4.109,43.058],"nice":false,"zero":false},"axis":null},"y":{"datum":44.05,"type":"quantitative","scale":{"domain":[-23.61,46.2],"nice":false,"zero":false,"reverse":true},"axis":null},"text":{"field":"t"}}},
{"data":{"name":"cells"},"mark":{"type":"point","shape":"diamond","filled":true,"size":7174,"stroke":"#FFFFFF","strokeWidth":1.3,"opacity":1},"encoding":{"x":{"field":"m","type":"quantitative","scale":{"domain":[-4.109,43.058],"nice":false,"zero":false},"axis":null},"y":{"field":"l","type":"quantitative","scale":{"domain":[-23.61,46.2],"nice":false,"zero":false,"reverse":true},"axis":null},"fill":{"field":"d","type":"quantitative","scale":{"domain":[0,0.5,0.6,0.65,1],"range":["#FFFFFF","#F0EA4A","#F3C040","#F6A033","#FF0000"],"interpolate":"rgb"},"legend":{"orient":"none","legendX":2660,"legendY":2535,"direction":"horizontal","gradientLength":1174,"gradientThickness":90,"gradientStrokeColor":"#000000","gradientStrokeWidth":3,"title":"D' Color Key","titleLimit":1200,"titleFont":"Liberation Sans","titleFontSize":87,"titleFontWeight":"normal","titleColor":"#000000","titleAnchor":"middle","titlePadding":70,"values":[0,1],"labelExpr":"''"}}}},
{"data":{"name":"blocks"},"mark":{"type":"line","stroke":"#000000","strokeWidth":3,"strokeJoin":"miter","clip":false},"encoding":{"x":{"field":"m","type":"quantitative","scale":{"domain":[-4.109,43.058],"nice":false,"zero":false},"axis":null},"y":{"field":"l","type":"quantitative","scale":{"domain":[-23.61,46.2],"nice":false,"zero":false,"reverse":true},"axis":null},"detail":{"field":"b"},"order":{"field":"o"}}}
]}
